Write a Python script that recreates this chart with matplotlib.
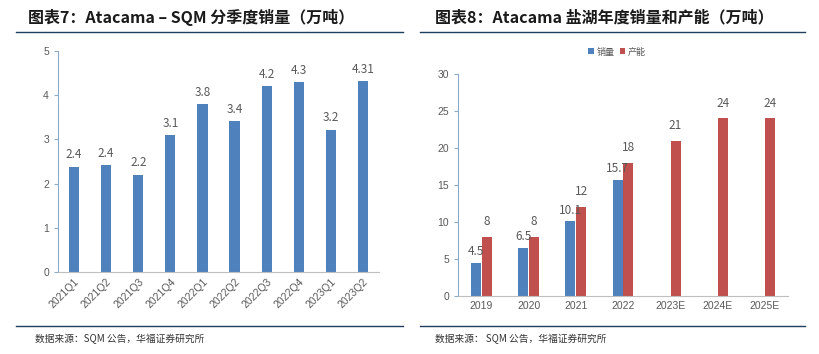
import numpy as np
import matplotlib.pyplot as plt

plt.rcParams['font.family'] = ['Noto Sans CJK SC', 'DejaVu Sans']

# chart 7 data
quarters = ['2021Q1', '2021Q2', '2021Q3', '2021Q4', '2022Q1', '2022Q2',
            '2022Q3', '2022Q4', '2023Q1', '2023Q2']
q_sales = [2.38, 2.42, 2.2, 3.1, 3.8, 3.42, 4.2, 4.3, 3.22, 4.31]
q_labels = ['2.4', '2.4', '2.2', '3.1', '3.8', '3.4', '4.2', '4.3', '3.2', '4.31']

# chart 8 data
years = ['2019', '2020', '2021', '2022', '2023E', '2024E', '2025E']
sales = [4.5, 6.5, 10.1, 15.7, np.nan, np.nan, np.nan]
capacity = [8, 8, 12, 18, 21, 24, 24]

blue = '#4F81BD'
red = '#C0504D'
grey = '#595959'
W, H = 819, 354

fig = plt.figure(figsize=(W / 100, H / 100), dpi=100)

def box(x0, y0, x1, y1):
    return [x0 / W, 1 - y1 / H, (x1 - x0) / W, (y1 - y0) / H]

def style(ax):
    for s in ['top', 'right']:
        ax.spines[s].set_visible(False)
    ax.spines['left'].set_color('#8FAAC8')
    ax.spines['bottom'].set_color('#BFBFBF')
    ax.tick_params(axis='both', labelsize=7.5, colors=grey, length=0)
    ax.tick_params(axis='y', length=3, direction='out', color='#8FAAC8')
    for lab in ax.get_xticklabels() + ax.get_yticklabels():
        lab.set_family(['Liberation Sans', 'DejaVu Sans'])

# titles and rules
fig.text(28 / W, 1 - 17 / H, '图表7：Atacama – SQM 分季度销量（万吨）', fontsize=11.5,
         fontweight='bold', style='italic', va='center', color='#1a1a1a')
fig.text(435 / W, 1 - 17 / H, '图表8：Atacama 盐湖年度销量和产能（万吨）', fontsize=11.5,
         fontweight='bold', style='italic', va='center', color='#1a1a1a')
for x0, x1 in [(16, 403), (420, 805)]:
    fig.add_artist(plt.Line2D([x0 / W, x1 / W], [1 - 32 / H] * 2, color='#1F3F5F', lw=1))
    fig.add_artist(plt.Line2D([x0 / W, x1 / W], [1 - 326 / H] * 2, color='#1F3F5F', lw=1))
fig.text(35 / W, 1 - 339 / H, '数据来源：SQM 公告，华福证券研究所', fontsize=7,
         style='italic', va='center', color='#333333')
fig.text(435 / W, 1 - 339 / H, '数据来源： SQM 公告，华福证券研究所', fontsize=7,
         style='italic', va='center', color='#333333')

# chart 7
ax1 = fig.add_axes(box(58, 51, 379, 272))
x = np.arange(len(quarters))
ax1.bar(x, q_sales, width=0.32, color=blue)
for xi, v, t in zip(x, q_sales, q_labels):
    ax1.text(xi, v + 0.12, t, ha='center', va='bottom', fontsize=8.5, color=grey)
ax1.set_xlim(-0.5, len(quarters) - 0.5)
ax1.set_ylim(0, 5)
ax1.set_yticks(range(6))
ax1.set_xticks(x)
ax1.set_xticklabels(quarters, rotation=45, ha='right', rotation_mode='anchor')
style(ax1)

# chart 8
ax2 = fig.add_axes(box(458, 74, 788, 296))
x2 = np.arange(len(years))
off = 0.115
bw = 0.21
ax2.bar(x2 - off, sales, width=bw, color=blue, label='销量')
ax2.bar(x2 + off, capacity, width=bw, color=red, label='产能')
for xi, v in zip(x2, sales):
    if not np.isnan(v):
        ax2.text(xi - off, v + 0.6, f'{v:g}', ha='center', va='bottom', fontsize=8.5,
                 color=grey, zorder=1)
for xi, v in zip(x2, capacity):
    ax2.text(xi + off, v + 1.2, f'{v:g}', ha='center', va='bottom', fontsize=8.5, color=grey)
ax2.set_xlim(-0.5, len(years) - 0.5)
ax2.set_ylim(0, 30)
ax2.set_yticks(range(0, 31, 5))
ax2.set_xticks(x2)
ax2.set_xticklabels(years)
style(ax2)
ax2.legend(loc='center', bbox_to_anchor=((617 - 458) / 330, 1 + (74 - 52) / 222),
           ncol=2, frameon=False, fontsize=6.5, handlelength=0.6, handleheight=0.6,
           handletextpad=0.3, columnspacing=0.6, labelcolor=grey)

fig.savefig('out.png', dpi=100)
